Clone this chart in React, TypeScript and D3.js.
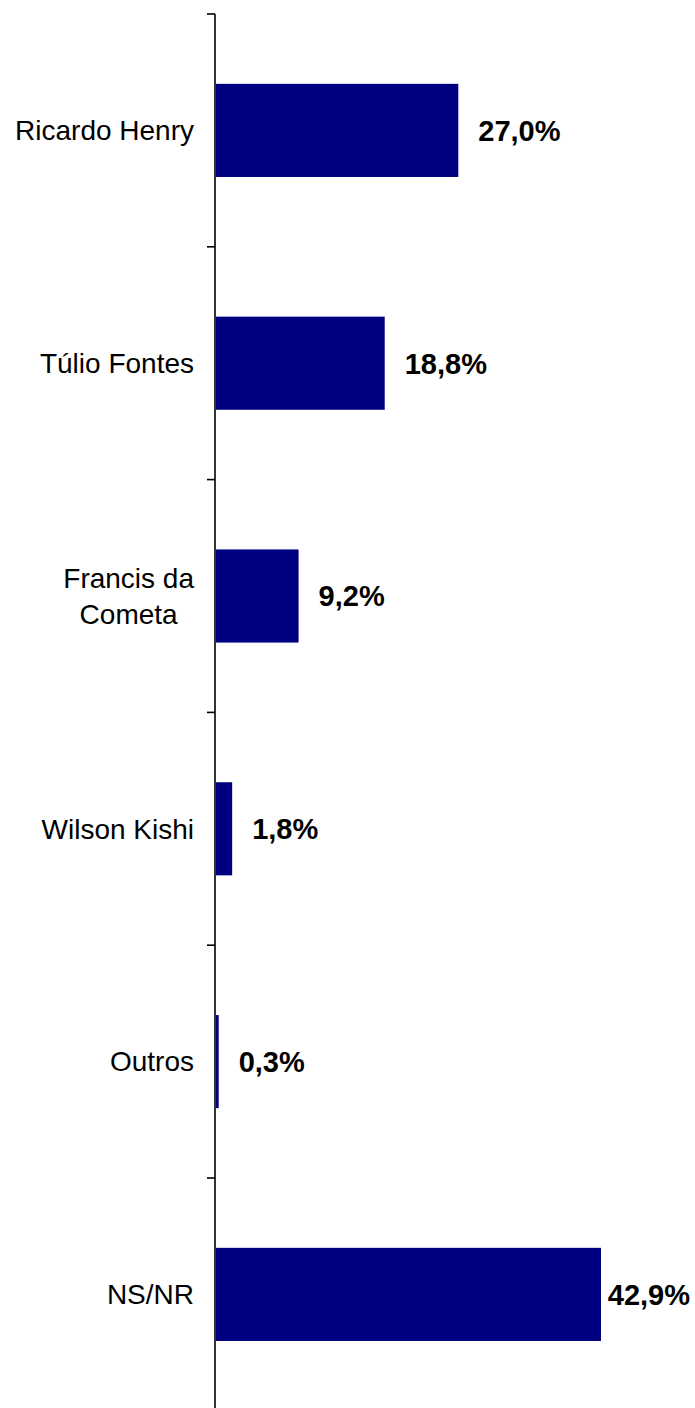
import React, { useEffect, useRef } from "react";
import * as d3 from "d3";

const categories: string[][] = [
  ["Ricardo Henry"],
  ["Túlio Fontes"],
  ["Francis da", "Cometa"],
  ["Wilson Kishi"],
  ["Outros"],
  ["NS/NR"],
];
const values: number[] = [27.0, 18.8, 9.2, 1.8, 0.3, 42.9];
const valueLabels: string[] = ["27,0%", "18,8%", "9,2%", "1,8%", "0,3%", "42,9%"];

const W = 695;
const H = 1408;

export default function App() {
  const ref = useRef<SVGSVGElement | null>(null);

  useEffect(() => {
    const svg = d3.select(ref.current);
    svg.selectAll("*").remove();

    const step = 232.8;
    const top = 14;
    const axisX = 215;
    const idx = categories.map((_, i) => String(i));
    const y = d3
      .scaleBand<string>()
      .domain(idx)
      .range([top, top + step * categories.length])
      .paddingInner(0.6)
      .paddingOuter(0.3);
    const x = d3.scaleLinear().domain([0, 42.9]).range([216, 601]);

    // bars
    svg
      .append("g")
      .selectAll("rect")
      .data(values)
      .join("rect")
      .attr("x", x(0))
      .attr("y", (_, i) => y(String(i))!)
      .attr("width", (d) => x(d) - x(0))
      .attr("height", y.bandwidth())
      .attr("fill", "#000080");

    // axis line + ticks
    const g = svg.append("g");
    g.append("line")
      .attr("x1", axisX)
      .attr("x2", axisX)
      .attr("y1", top)
      .attr("y2", H + 10)
      .attr("stroke", "#000")
      .attr("stroke-width", 1.6);
    const tickYs = d3.range(categories.length + 1).map((i) => top + i * step);
    g.selectAll("line.tick")
      .data(tickYs)
      .join("line")
      .attr("class", "tick")
      .attr("x1", axisX - 8)
      .attr("x2", axisX)
      .attr("y1", (d) => d)
      .attr("y2", (d) => d)
      .attr("stroke", "#000")
      .attr("stroke-width", 1.6);

    // category labels
    const catFont = 28;
    const lineH = 36;
    const rightEdge = 194;
    categories.forEach((lines, i) => {
      const cy = y(String(i))! + y.bandwidth() / 2;
      const t = svg
        .append("text")
        .attr("font-family", "Liberation Sans, Arial, sans-serif")
        .attr("font-size", catFont)
        .attr("fill", "#000")
        .attr("text-anchor", "middle");
      const spans = lines.map((ln, k) =>
        t
          .append("tspan")
          .text(ln)
          .attr("y", cy + (k - (lines.length - 1) / 2) * lineH)
          .attr("dy", "0.35em")
      );
      const maxW = d3.max(spans, (s) => (s.node() as SVGTSpanElement).getComputedTextLength()) || 0;
      spans.forEach((s) => s.attr("x", rightEdge - maxW / 2));
    });

    // value labels
    const valFont = 29;
    const rightLimit = 690;
    values.forEach((v, i) => {
      const cy = y(String(i))! + y.bandwidth() / 2;
      const t = svg
        .append("text")
        .attr("font-family", "Liberation Sans, Arial, sans-serif")
        .attr("font-size", valFont)
        .attr("font-weight", "bold")
        .attr("fill", "#000")
        .attr("y", cy)
        .attr("dy", "0.36em")
        .text(valueLabels[i]);
      const w = (t.node() as SVGTextElement).getComputedTextLength();
      const px = Math.min(x(v) + 20, rightLimit - w);
      t.attr("x", px);
    });
  }, []);

  return (
    <svg
      ref={ref}
      width={W}
      height={H}
      style={{ position: "absolute", left: 0, top: 0, background: "#fff" }}
    />
  );
}
